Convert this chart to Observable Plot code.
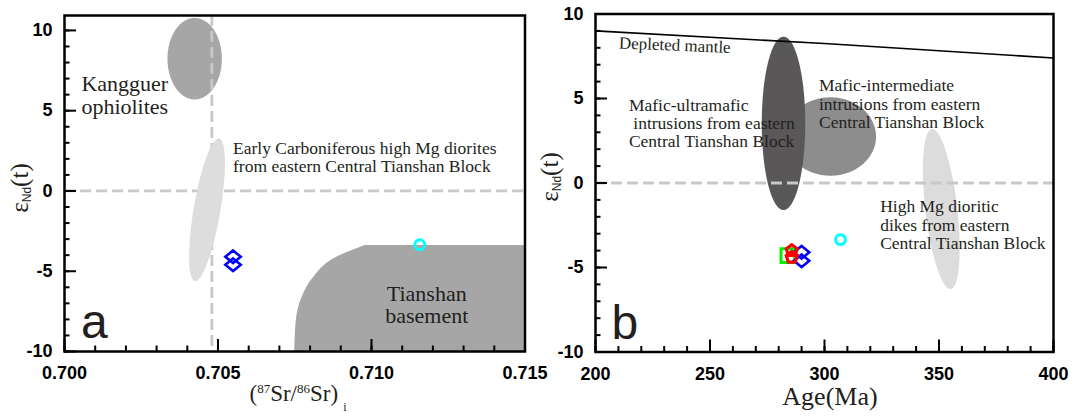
<!DOCTYPE html>
<html>
<head>
<meta charset="utf-8">
<script src="https://cdn.jsdelivr.net/npm/d3@7"></script>
<script src="https://cdn.jsdelivr.net/npm/@observablehq/plot@0.6"></script>
<style>
  html, body { margin: 0; padding: 0; background: #fff; }
  #figure { position: relative; width: 1074px; height: 416px; background: #fff; overflow: hidden; }
  #figure svg { position: absolute; top: 0; overflow: visible; }
</style>
</head>
<body>
<div id="figure"></div>
<script>
// ---------- Samples (this study) ----------
const diamondSr = [0.70549, 0.70549];
const diamondAge = [290, 290];
const diamondEps = [-4.1, -4.6];
const circleSr = [0.71157];
const circleAge = [307];
const circleEps = [-3.35];
const squareAge = [284];
const squareEps = [-4.3];
const pentagonAge = [285.7, 285.7];
const pentagonEps = [-4.0, -4.4];

// ---------- Depleted mantle evolution ----------
const dmAge = [200, 300, 400];
const dmEps = [9.0, 8.25, 7.4];

// ---------- Reference fields, panel a (centre + two conjugate half-axes) ----------
const fieldNameA = ["Kangguer ophiolites", "Early Carboniferous high Mg diorites"];
const fieldCxA = [0.70424, 0.704642];
const fieldCyA = [8.24, -1.17];
const fieldAxA = [0.000886, 0.000394];
const fieldAyA = [0, 4.44];
const fieldBxA = [0, 0.00043];
const fieldByA = [2.54, -0.14];

// Tianshan basement outline (left edge), closed to the right border of the plot
const basementEps = [-10, -8.07, -6.62, -5.37, -4.12, -3.40];
const basementSr = [0.7075, 0.70755, 0.70774, 0.70812, 0.70888, 0.7098];

// ---------- Reference fields, panel b ----------
const fieldNameB = ["Mafic-intermediate", "Mafic-ultramafic", "High Mg dioritic dikes"];
const fieldCxB = [302.6, 282.1, 351.0];
const fieldCyB = [2.75, 3.53, -1.54];
const fieldAxB = [19.9, 9.5, -4.1];
const fieldAyB = [0, 0, 4.73];
const fieldBxB = [0, 0, 6.9];
const fieldByB = [2.32, 5.13, 0.11];

// ---------- Reference lines ----------
const srDivide = [0.7048];
const epsZero = [0];

// ---------- Annotations ----------
const annoTextA = ["Kangguer\nophiolites", "Early Carboniferous high Mg diorites\nfrom eastern Central Tianshan Block", "Tianshan\nbasement"];
const annoXA = [0.70055, 0.70549, 0.7118];
const annoYA = [4.81, 1.17, -8.24];
const annoTextB = ["Mafic-ultramafic\n\u00a0intrusions from eastern\nCentral Tianshan Block", "Mafic-intermediate\nintrusions from eastern\nCentral Tianshan Block", "High Mg dioritic\ndikes from eastern\nCentral Tianshan Block"];
const annoXB = [214.6, 297.6, 324.3];
const annoYB = [2.11, 3.25, -3.91];
const dmLabel = ["Depleted mantle"];
const dmLabelAge = [210.1];
const dmLabelEps = [7.96];

// ---------- Ticks ----------
const xMajorA = [0.700, 0.705, 0.710, 0.715];
const xMinorA = d3.range(0, 16).map(i => +(0.700 + i * 0.001).toFixed(3));
const xMajorB = [200, 250, 300, 350, 400];
const xMinorB = d3.range(200, 401, 10);
const yMajor = [-10, -5, 0, 5, 10];
const yMinor = d3.range(-10, 11, 1);

// ---------- Styling ----------
const serif = "'Liberation Serif', 'Times New Roman', serif";
const sans = "'Liberation Sans', Arial, sans-serif";
const ink = "#231f20";
const fillA = ["#a6a6a6", "#dddddd"];
const fillB = ["#8d8d8d", "#595757", "#dcdcdc"];

function ellipse(cx, cy, ax, ay, bx, by, n = 160) {
  return d3.range(n).map(i => {
    const t = (2 * Math.PI * i) / n;
    return {x: cx + ax * Math.cos(t) + bx * Math.sin(t), y: cy + ay * Math.cos(t) + by * Math.sin(t)};
  });
}

// Symbols: r is the radius (size = πr²)
const radius = size => Math.sqrt(size / Math.PI);
const pentagon = {
  draw(ctx, size) {
    const r = radius(size);
    for (let k = 0; k < 5; ++k) {
      const a = -Math.PI / 2 + (k * 2 * Math.PI) / 5;
      const px = r * Math.cos(a), py = r * Math.sin(a);
      if (k) ctx.lineTo(px, py); else ctx.moveTo(px, py);
    }
    ctx.closePath();
  }
};
const rhombus = {
  draw(ctx, size) {
    const r = radius(size);
    ctx.moveTo(0, -0.82 * r);
    ctx.lineTo(r, 0);
    ctx.lineTo(0, 0.82 * r);
    ctx.lineTo(-r, 0);
    ctx.closePath();
  }
};

// Inward ticks on the bottom and left edges, plus bold tick labels
function axes(xMajor, xMinor, xFmt, frameW, frameH) {
  const tick = {stroke: "black", strokeWidth: 2};
  const labelFont = {fontSize: 18, fontWeight: "bold", fontFamily: sans, fill: "black", label: null, tickSize: 0};
  return [
    Plot.tickX(xMinor, {x: d => d, insetTop: frameH - 5.5, ...tick}),
    Plot.tickX(xMajor, {x: d => d, insetTop: frameH - 12, ...tick}),
    Plot.tickY(yMinor, {y: d => d, insetRight: frameW - 5.5, ...tick}),
    Plot.tickY(yMajor, {y: d => d, insetRight: frameW - 12, ...tick}),
    Plot.axisX(xMajor, {...labelFont, anchor: "bottom", tickPadding: 15, tickFormat: xFmt}),
    Plot.axisY(yMajor, {...labelFont, anchor: "left", tickPadding: 12, tickFormat: d => String(d)})
  ];
}

function yTitle(svg, x, y) {
  const t = d3.select(svg).append("text")
    .attr("transform", `translate(${x},${y}) rotate(-90)`)
    .attr("text-anchor", "middle")
    .attr("font-family", serif).attr("font-size", 25).attr("fill", ink);
  t.append("tspan").text("ε");
  t.append("tspan").attr("font-family", sans).attr("font-size", 12).attr("dy", 3).text("Nd");
  t.append("tspan").attr("dy", -3).text("(t)");
}

const dash = {stroke: "#c8c8c8", strokeWidth: 2.8, strokeDasharray: "11 5"};
const annoStyle = {fill: ink, fontFamily: serif, stroke: null};

// ---------- Panel a: εNd(t) vs initial 87Sr/86Sr ----------
const mA = {left: 64, right: 15.5, top: 15, bottom: 65};
const plotA = Plot.plot({
  width: 540, height: 416,
  marginLeft: mA.left, marginRight: mA.right, marginTop: mA.top, marginBottom: mA.bottom,
  style: {background: "transparent", overflow: "visible"},
  x: {domain: [0.700, 0.715], label: null},
  y: {domain: [-10, 10.93], label: null},
  marks: [
    Plot.line(ellipse(fieldCxA[0], fieldCyA[0], fieldAxA[0], fieldAyA[0], fieldBxA[0], fieldByA[0]),
      {x: "x", y: "y", fill: fillA[0], stroke: "none", curve: "linear-closed"}),
    Plot.areaX(basementEps, {y: d => d, x1: (d, i) => basementSr[i], x2: 0.715, fill: "#a6a6a6", curve: "monotone-y"}),
    Plot.ruleY(epsZero, dash),
    Plot.ruleX(srDivide, dash),
    Plot.line(ellipse(fieldCxA[1], fieldCyA[1], fieldAxA[1], fieldAyA[1], fieldBxA[1], fieldByA[1]),
      {x: "x", y: "y", fill: fillA[1], stroke: "none", curve: "linear-closed"}),
    Plot.text([0], {x: i => annoXA[i], y: i => annoYA[i], text: i => annoTextA[i], ...annoStyle,
      fontSize: 22, lineHeight: 1.03, textAnchor: "start", lineAnchor: "bottom"}),
    Plot.text([1], {x: i => annoXA[i], y: i => annoYA[i], text: i => annoTextA[i], ...annoStyle,
      fontSize: 17.5, lineHeight: 1.03, textAnchor: "start", lineAnchor: "bottom"}),
    Plot.text([2], {x: i => annoXA[i], y: i => annoYA[i], text: i => annoTextA[i], ...annoStyle,
      fontSize: 22, lineHeight: 1.03, textAnchor: "middle", lineAnchor: "bottom"}),
    Plot.dot(diamondEps, {x: (d, i) => diamondSr[i], y: d => d, symbol: rhombus, r: 7.7, stroke: "#0000ff", strokeWidth: 2.6, fill: "none"}),
    Plot.dot(circleEps, {x: (d, i) => circleSr[i], y: d => d, r: 4.9, stroke: "#00ffff", strokeWidth: 3, fill: "none"}),
    Plot.text(["a"], {frameAnchor: "bottom-left", dx: 16.5, dy: -14, fontSize: 48, fontFamily: sans, fill: ink, textAnchor: "start", lineAnchor: "bottom"}),
    ...axes(xMajorA, xMinorA, d3.format(".3f"), 540 - mA.left - mA.right, 416 - mA.top - mA.bottom),
    Plot.frame({stroke: "black", strokeWidth: 2.5})
  ]
});

// ---------- Panel b: εNd(t) vs age ----------
const mB = {left: 55, right: 21, top: 13.5, bottom: 64.5};
const plotB = Plot.plot({
  width: 534, height: 416,
  marginLeft: mB.left, marginRight: mB.right, marginTop: mB.top, marginBottom: mB.bottom,
  style: {background: "transparent", overflow: "visible"},
  x: {domain: [200, 400], label: null},
  y: {domain: [-10, 10], label: null},
  marks: [
    ...[0, 1, 2].map(k => Plot.line(ellipse(fieldCxB[k], fieldCyB[k], fieldAxB[k], fieldAyB[k], fieldBxB[k], fieldByB[k]),
      {x: "x", y: "y", fill: fillB[k], stroke: "none", curve: "linear-closed"})),
    Plot.ruleY(epsZero, dash),
    Plot.line(dmEps, {x: (d, i) => dmAge[i], y: d => d, stroke: "black", strokeWidth: 1.6}),
    Plot.text(dmLabel, {x: (d, i) => dmLabelAge[i], y: (d, i) => dmLabelEps[i], text: d => d, ...annoStyle,
      fontSize: 17, rotate: 2.3, textAnchor: "start", lineAnchor: "bottom"}),
    Plot.text(annoTextB, {x: (d, i) => annoXB[i], y: (d, i) => annoYB[i], text: d => d, ...annoStyle,
      fontSize: 17.5, lineHeight: 1.046, textAnchor: "start", lineAnchor: "bottom"}),
    Plot.dot(squareEps, {x: (d, i) => squareAge[i], y: d => d, symbol: "square", r: 7.7, stroke: "#00ee00", strokeWidth: 3, fill: "none"}),
    Plot.dot(diamondEps, {x: (d, i) => diamondAge[i], y: d => d, symbol: rhombus, r: 7.7, stroke: "#0000ff", strokeWidth: 2.6, fill: "none"}),
    Plot.dot(pentagonEps, {x: (d, i) => pentagonAge[i], y: d => d, symbol: pentagon, r: 5.8, stroke: "#ff0000", strokeWidth: 3.2, fill: "none"}),
    Plot.dot(circleEps, {x: (d, i) => circleAge[i], y: d => d, r: 4.9, stroke: "#00ffff", strokeWidth: 3, fill: "none"}),
    Plot.text(["b"], {frameAnchor: "bottom-left", dx: 16, dy: -13, fontSize: 48, fontFamily: sans, fill: ink, textAnchor: "start", lineAnchor: "bottom"}),
    ...axes(xMajorB, xMinorB, d => String(d), 534 - mB.left - mB.right, 416 - mB.top - mB.bottom),
    Plot.frame({stroke: "black", strokeWidth: 2.5})
  ]
});

// Axis titles with sub/superscripts
yTitle(plotA, 28, 188);
{
  const t = d3.select(plotA).append("text")
    .attr("x", 298).attr("y", 401).attr("text-anchor", "middle")
    .attr("font-family", serif).attr("font-size", 23).attr("fill", ink);
  t.append("tspan").text("(");
  t.append("tspan").attr("font-size", 13).attr("dy", -8).text("87");
  t.append("tspan").attr("dy", 8).text("Sr/");
  t.append("tspan").attr("font-size", 13).attr("dy", -8).text("86");
  t.append("tspan").attr("dy", 8).text("Sr)");
  t.append("tspan").attr("font-size", 12).attr("dx", 5).attr("dy", 10).text("i");
}
yTitle(plotB, 18, 177);
d3.select(plotB).append("text")
  .attr("x", 290).attr("y", 405).attr("text-anchor", "middle")
  .attr("font-family", serif).attr("font-size", 26).attr("fill", ink)
  .text("Age(Ma)");

plotA.style.left = "0px";
plotB.style.left = "540px";
document.getElementById("figure").append(plotA, plotB);
</script>
</body>
</html>
